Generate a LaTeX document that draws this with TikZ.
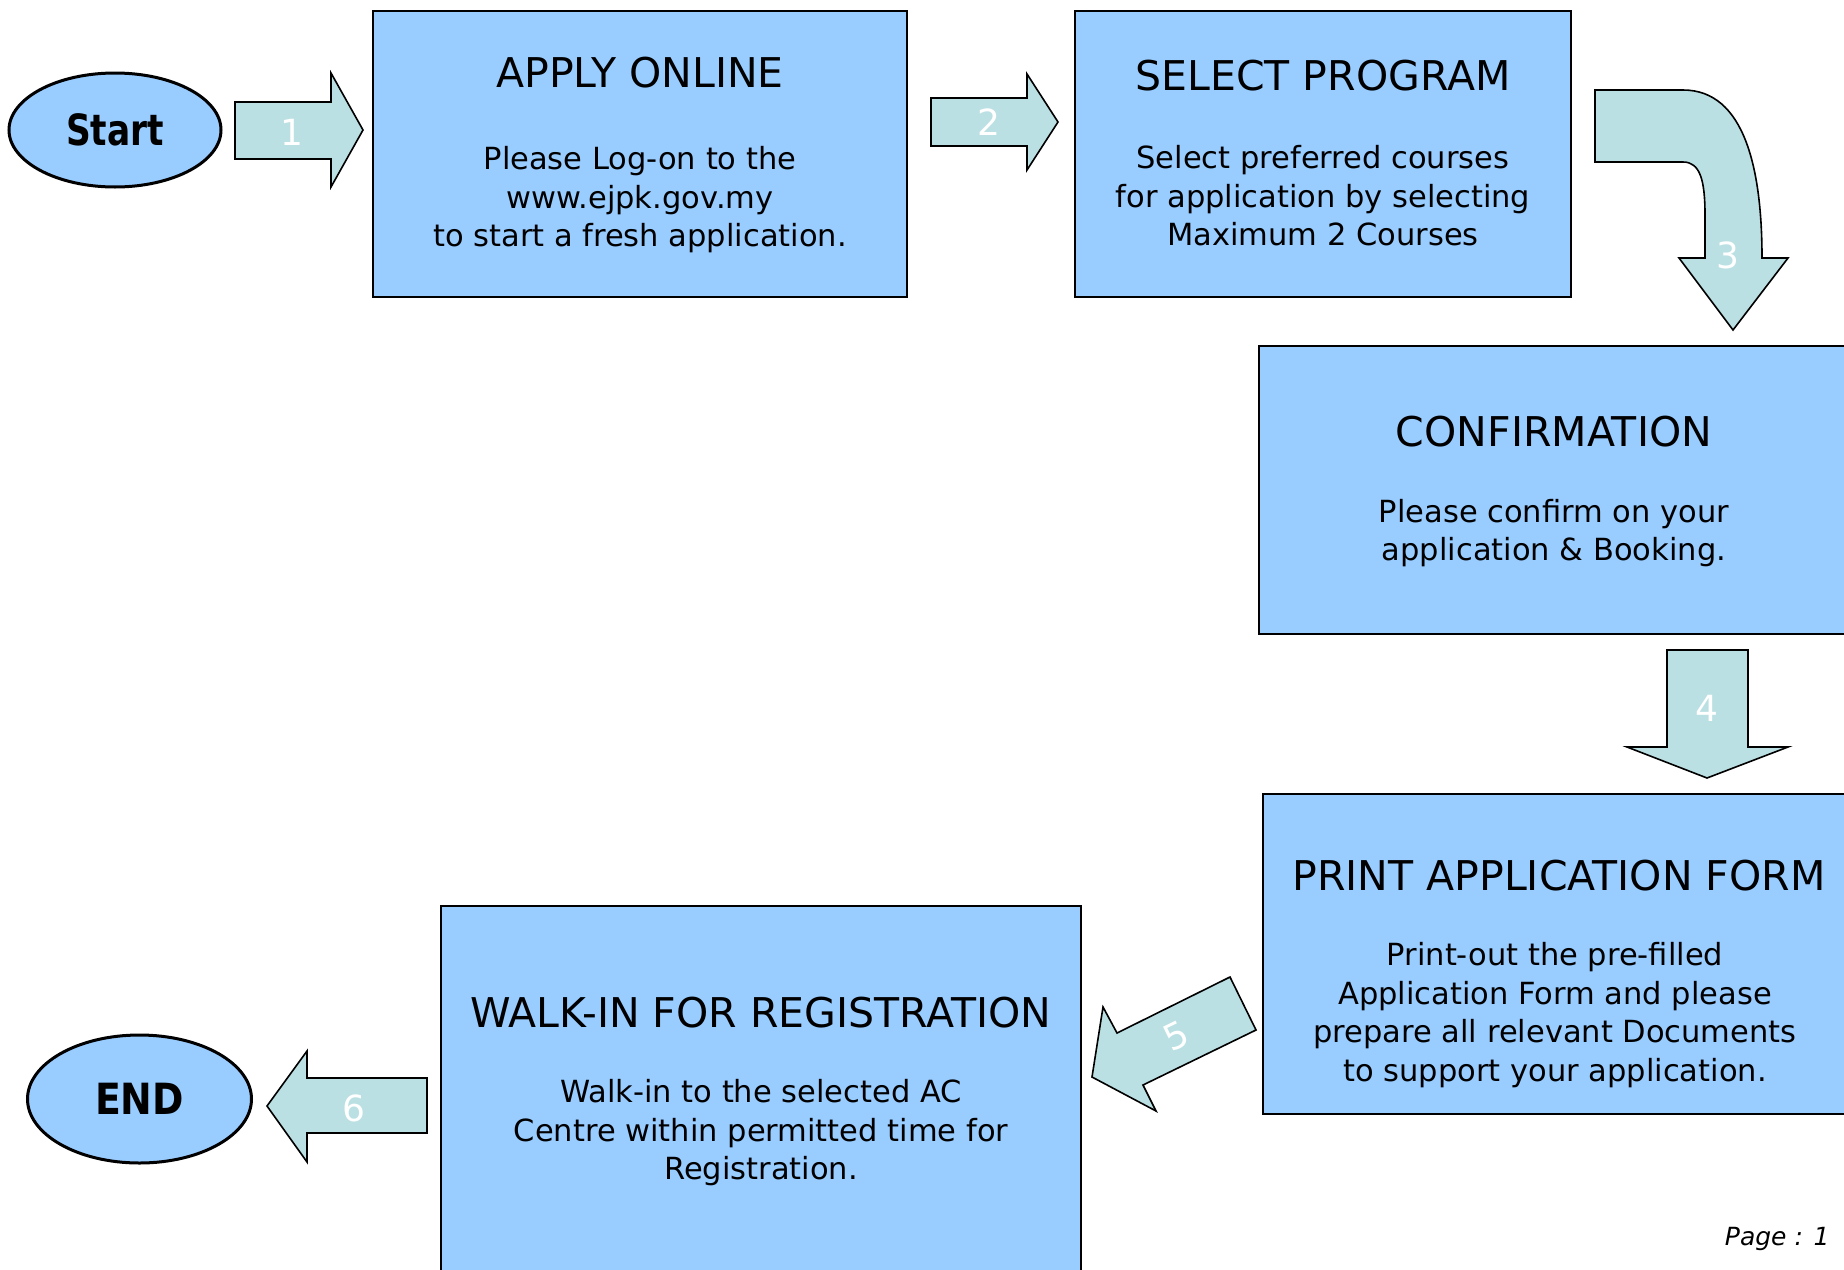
\documentclass[tikz,border=0pt]{standalone}
\usepackage{fontspec}
\setmainfont{DejaVu Sans}
\usetikzlibrary{shapes.geometric}
\definecolor{boxblue}{RGB}{153,204,255}
\definecolor{arrteal}{RGB}{187,224,227}
\tikzset{
  stepbox/.style={draw=black, line width=1.5pt, fill=boxblue},
  blockarrow/.style={draw=black, line width=1.6pt, fill=arrteal, line join=miter},
  oval/.style={ellipse, draw=black, line width=3pt, fill=boxblue, inner sep=0pt, font=\fontsize{43}{46}\selectfont\bfseries},
  ttl/.style={font=\fontsize{41}{46}\selectfont, anchor=center},
  bodytxt/.style={font=\fontsize{30.5}{38.5}\selectfont, align=center, anchor=center},
  num/.style={font=\fontsize{36}{40}\selectfont, text=white, anchor=center}
}
\begin{document}
\begin{tikzpicture}[x=1pt,y=-1pt]
\useasboundingbox (0,0) rectangle (1844,1269);
\clip (0,0) rectangle (1844,1269);
\fill[white] (0,0) rectangle (1844,1269);

% boxes
\path[stepbox] (373,11) rectangle (907,297);
\path[stepbox] (1075,11) rectangle (1571,297);
\path[stepbox] (1259,346) rectangle (1870,634);
\path[stepbox] (1263,794) rectangle (1870,1114);
\path[stepbox] (441,906) rectangle (1081,1300);

% texts
\node[ttl] (t1) at (640,73) {APPLY ONLINE};
\node[bodytxt] (b1) at (640,200) {Please Log-on to the\\www.ejpk.gov.my\\to start a fresh application.};
\node[ttl] (t2) at (1323,76) {SELECT PROGRAM};
\node[bodytxt] (b2) at (1323,196) {Select preferred courses\\for application by selecting\\Maximum 2 Courses};
\node[ttl] (t3) at (1554,432) {CONFIRMATION};
\node[bodytxt] (b3) at (1554,533) {Please confirm on your\\ application \& Booking.};
\node[ttl] (t4) at (1559,876) {PRINT APPLICATION FORM};
\node[bodytxt] (b4) at (1555,1015) {Print-out the pre-filled\\Application Form and please\\prepare all relevant Documents\\to support your application.};
\node[ttl] (t5) at (761,1013) {WALK-IN FOR REGISTRATION};
\node[bodytxt] (b5) at (761,1133) {Walk-in to the selected AC\\Centre within permitted time for\\Registration.};

% ovals
\node[oval, minimum width=212pt, minimum height=114pt] (start) at (115,130) {\scalebox{0.8}[1]{Start}};
\node[oval, minimum width=224pt, minimum height=128pt] (end) at (139.5,1099) {\scalebox{0.88}[1]{END}};

% block arrows
\draw[blockarrow] (235,102)--(331,102)--(331,73)--(363,130)--(331,187)--(331,159)--(235,159)--cycle;
\node[num] (n1) at (292,132) {1};
\draw[blockarrow] (931,98)--(1027,98)--(1027,74)--(1058,122)--(1027,170)--(1027,146)--(931,146)--cycle;
\node[num] (n2) at (989,122) {2};
\draw[blockarrow] (1595,90)--(1683,90) .. controls (1745,90) and (1762,170) .. (1762,258)
  --(1788,258)--(1733,330)--(1679,258)--(1705,258)--(1705,215)
  .. controls (1705,180) and (1700,162) .. (1683,162)--(1595,162)--cycle;
\node[num] (n3) at (1728,255) {3};
\draw[blockarrow] (1667,650)--(1748,650)--(1748,747)--(1788,747)--(1707,778)--(1627,747)--(1667,747)--cycle;
\node[num] (n4) at (1707,708) {4};
\draw[blockarrow] (1230,977)--(1256,1030)--(1143,1085)--(1156,1111)--(1092,1077)--(1103,1007)--(1117,1033)--cycle;
\node[num, rotate=26] (n5) at (1176,1036) {5};
\draw[blockarrow] (427,1078)--(307,1078)--(307,1051)--(267,1106)--(307,1162)--(307,1133)--(427,1133)--cycle;
\node[num] (n6) at (354,1108) {6};

% page label
\node[anchor=base east, font=\fontsize{25}{28}\selectfont\itshape] (page) at (1833,1245) {Page : 1};
\end{tikzpicture}
\end{document}
